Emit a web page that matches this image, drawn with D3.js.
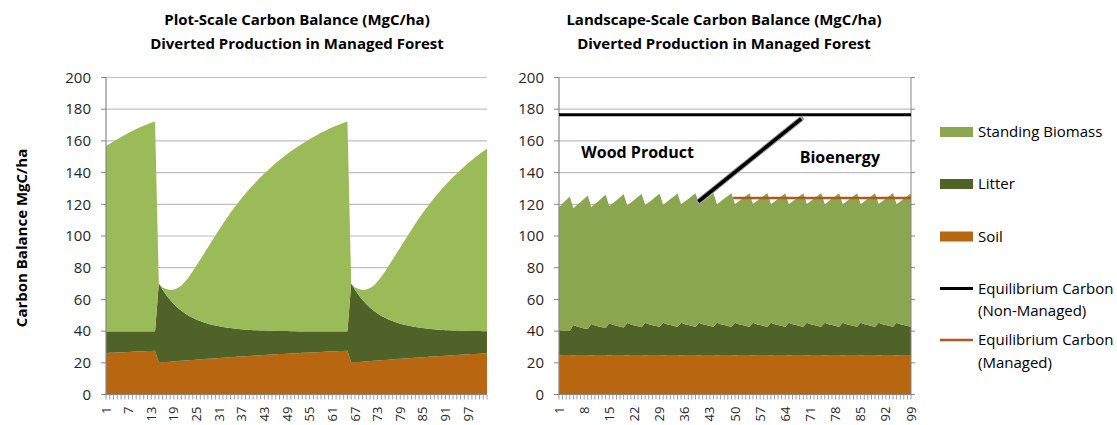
<!DOCTYPE html>
<html><head><meta charset="utf-8">
<script src="https://cdn.jsdelivr.net/npm/d3@7"></script>
<style>body{margin:0;background:#fff}svg{display:block}text{font-family:'Open Sans',sans-serif}</style>
</head><body><svg id="c" width="1117" height="425"></svg>
<script>
// ---------- DATA ----------
const leftCategories = d3.range(1, 103);   // years 1..102
const rightCategories = d3.range(1, 100);  // years 1..99
const leftTickLabels = [1,7,13,19,25,31,37,43,49,55,61,67,73,79,85,91,97];
const rightTickLabels = [1,8,15,22,29,36,43,50,57,64,71,78,85,92,99];
const yTickValues = [0,20,40,60,80,100,120,140,160,180,200];

const soilLeft = [
 26.1,26.3,26.4,26.5,26.6,26.7,26.8,27.0,27.1,27.2,27.3,27.4,27.5,27.6,
 20.1,20.3,20.5,20.7,20.9,21.1,21.3,21.4,21.6,21.8,22.0,22.2,22.4,22.5,22.7,22.9,23.0,23.2,23.4,23.5,
 23.7,23.9,24.0,24.2,24.3,24.5,24.6,24.8,24.9,25.1,25.2,25.3,25.5,25.6,25.7,25.9,26.0,26.1,26.3,26.4,
 26.5,26.6,26.7,26.8,27.0,27.1,27.2,27.3,27.4,27.5,27.6,
 20.1,20.3,20.5,20.7,20.9,21.1,21.3,21.4,21.6,21.8,22.0,22.2,22.4,22.5,22.7,22.9,23.0,23.2,23.4,23.5,
 23.7,23.9,24.0,24.2,24.3,24.5,24.6,24.8,24.9,25.1,25.2,25.3,25.5,25.6,25.7,25.9,26.0
];
const litterLeft = [
 13.7,13.5,13.4,13.3,13.2,13.1,13.0,12.8,12.7,12.6,12.5,12.4,12.3,12.2,
 49.9,45.8,42.1,38.9,36.2,33.7,31.5,29.7,28.0,26.6,25.2,24.1,23.0,22.2,21.3,20.6,20.0,19.4,18.8,18.4,
 17.9,17.4,17.1,16.7,16.5,16.1,15.9,15.6,15.4,15.1,15.0,14.8,14.6,14.4,14.3,14.0,13.9,13.7,13.5,13.4,
 13.3,13.2,13.1,13.0,12.8,12.7,12.6,12.5,12.4,12.3,12.2,
 49.9,45.8,42.1,38.9,36.2,33.7,31.5,29.7,28.0,26.6,25.2,24.1,23.0,22.2,21.3,20.6,20.0,19.4,18.8,18.4,
 17.9,17.4,17.1,16.7,16.5,16.1,15.9,15.6,15.4,15.1,15.0,14.8,14.6,14.4,14.3,14.0,13.9
];
const biomassLeft = [
 116.9,118.4,119.9,121.3,122.7,124.0,125.3,126.5,127.7,128.8,129.8,130.7,131.7,132.5,
 0,1.4,3.9,6.4,9.2,12.4,16.0,20.2,24.7,29.4,34.3,38.9,43.6,48.1,52.6,56.8,61.0,65.1,69.0,72.7,76.3,
 79.7,82.9,85.9,88.8,91.6,94.2,96.8,99.2,101.5,103.7,105.9,107.8,109.8,111.7,113.5,115.2,
 116.9,118.4,119.9,121.3,122.7,124.0,125.3,126.5,127.7,128.8,129.8,130.7,131.7,132.5,
 0,1.4,3.9,6.4,9.2,12.4,16.0,20.2,24.7,29.4,34.3,38.9,43.6,48.1,52.6,56.8,61.0,65.1,69.0,72.7,76.3,
 79.7,82.9,85.9,88.8,91.6,94.2,96.8,99.2,101.5,103.7,105.9,107.8,109.8,111.7,113.5,115.2
];

const soilRight = [
 24.6,24.5,24.5,24.4,
 24.8,24.5,24.5,24.5,24.5, 24.8,24.5,24.5,24.5,24.5, 24.8,24.5,24.5,24.5,24.5, 24.8,24.5,24.5,24.5,24.5,
 24.8,24.5,24.5,24.5,24.5, 24.8,24.5,24.5,24.5,24.5, 24.8,24.5,24.5,24.5,24.5, 24.8,24.5,24.5,24.5,24.5,
 24.8,24.5,24.5,24.5,24.5, 24.8,24.5,24.5,24.5,24.5, 24.8,24.5,24.5,24.5,24.5, 24.8,24.5,24.5,24.5,24.5,
 24.8,24.5,24.5,24.5,24.5, 24.8,24.5,24.5,24.5,24.5, 24.8,24.5,24.5,24.5,24.5, 24.8,24.5,24.5,24.5,24.5,
 24.8,24.5,24.5,24.5,24.5, 24.8,24.5,24.5,24.5,24.5, 24.8,24.5,24.5,24.5,24.5
];
const litterRight = [
 15.9,15.8,15.6,15.6,
 19.0,18.4,17.8,17.2,16.8, 19.7,19.1,18.4,17.9,17.4, 20.1,19.5,18.8,18.3,17.8, 20.3,19.7,19.0,18.5,18.0,
 20.4,19.8,19.2,18.7,18.2, 20.5,19.9,19.3,18.7,18.3, 20.5,19.9,19.3,18.7,18.3, 20.5,19.9,19.3,18.7,18.3,
 20.5,19.9,19.3,18.7,18.3, 20.5,19.9,19.3,18.7,18.3, 20.5,19.9,19.3,18.7,18.3, 20.5,19.9,19.3,18.7,18.3,
 20.5,19.9,19.3,18.7,18.3, 20.5,19.9,19.3,18.7,18.3, 20.5,19.9,19.3,18.7,18.3, 20.5,19.9,19.3,18.7,18.3,
 20.5,19.9,19.3,18.7,18.3, 20.5,19.9,19.3,18.7,18.3, 20.5,19.9,19.3,18.7,18.3
];
const biomassRight = [
 77.7,80.2,82.6,84.9,
 73.7,76.6,79.2,81.8,84.2, 73.7,76.6,79.2,81.7,84.1, 73.9,76.7,79.3,81.6,84.0, 74.1,76.8,79.4,81.7,84.0,
 74.3,77.0,79.4,81.7,84.0, 74.4,77.1,79.5,81.8,84.0, 74.6,77.3,79.6,82.0,84.1, 74.7,77.4,79.7,82.1,84.2,
 74.8,77.4,79.8,82.1,84.2, 74.7,77.3,79.7,82.0,84.1, 74.9,77.5,79.8,82.2,84.3, 74.8,77.4,79.7,82.1,84.2,
 74.7,77.4,79.7,82.1,84.2, 74.9,77.5,79.8,82.2,84.3, 74.8,77.4,79.8,82.1,84.2, 74.7,77.3,79.7,82.0,84.1,
 74.8,77.4,79.7,82.1,84.2, 74.9,77.5,79.8,82.2,84.3, 74.7,77.4,79.7,82.1,84.2
];

const eqNonManaged = [{year:1, value:176.5},{year:99, value:176.5}];
const eqManaged = [{year:49.5, value:124},{year:99, value:124}];
const annotLine = [{year:39.8, value:121.7},{year:68.4, value:173.9}];
const annotLabels = [{text:"Wood Product", year:7.2, value:149}, {text:"Bioenergy", year:68, value:146}];

const seriesNames = ["Standing Biomass","Litter","Soil"];
const lineNames = [["Equilibrium Carbon","(Non-Managed)"],["Equilibrium Carbon","(Managed)"]];
const titlesLeft = ["Plot-Scale Carbon Balance (MgC/ha)","Diverted Production in Managed Forest"];
const titlesRight = ["Landscape-Scale Carbon Balance (MgC/ha)","Diverted Production in Managed Forest"];
const yAxisTitle = "Carbon Balance MgC/ha";

// ---------- STYLE ----------
const C = {bioL:"#9bbb59", bioR:"#8aa64f", litter:"#4f6228", soil:"#b8660f",
           grid:"#bfbfbf", axis:"#868686", black:"#000", managed:"#b5561c", text:"#262626"};
const Y0 = 394.5, Y1 = 77.5;

const svg = d3.select("#c");
const y = d3.scaleLinear().domain([0,200]).range([Y0, Y1]);

function panel(cfg){
  const x = d3.scaleLinear().domain([cfg.cats[0], cfg.cats[cfg.cats.length-1]]).range([cfg.x0, cfg.x1]);
  const g = svg.append("g");
  g.selectAll("line.grid").data(yTickValues.filter(v=>v>0)).join("line")
    .attr("x1",cfg.x0).attr("x2",cfg.x1).attr("y1",d=>y(d)).attr("y2",d=>y(d))
    .attr("stroke",C.grid).attr("stroke-width",1.2);
  const rows = cfg.cats.map((c,i)=>({year:c, soil:cfg.soil[i], litter:cfg.litter[i], biomass:cfg.biomass[i]}));
  const stack = d3.stack().keys(["soil","litter","biomass"])(rows);
  const area = d3.area().x(d=>x(d.data.year)).y0(d=>y(d[0])).y1(d=>y(d[1]));
  const fills = {soil:C.soil, litter:C.litter, biomass:cfg.bioColor};
  g.selectAll("path.a").data(stack).join("path").attr("d",area).attr("fill",d=>fills[d.key]);
  g.append("line").attr("x1",cfg.x0).attr("x2",cfg.x0).attr("y1",Y0).attr("y2",Y1).attr("stroke",C.axis).attr("stroke-width",1.2);
  g.selectAll("line.yt").data(yTickValues).join("line")
    .attr("x1",cfg.x0-5).attr("x2",cfg.x0).attr("y1",d=>y(d)).attr("y2",d=>y(d)).attr("stroke",C.axis);
  g.selectAll("text.yl").data(yTickValues).join("text")
    .attr("x",cfg.x0-15).attr("y",d=>y(d)).attr("dy","0.35em").attr("text-anchor","end")
    .attr("font-size",15).attr("fill",C.text).text(d=>d);
  if(cfg.secondary){
    g.append("line").attr("x1",cfg.x1).attr("x2",cfg.x1).attr("y1",Y0).attr("y2",Y1).attr("stroke",C.axis).attr("stroke-width",1);
    g.selectAll("line.yt2").data(yTickValues).join("line")
      .attr("x1",cfg.x1).attr("x2",cfg.x1+4).attr("y1",d=>y(d)).attr("y2",d=>y(d)).attr("stroke",C.axis);
  }
  g.append("line").attr("x1",cfg.x0).attr("x2",cfg.x1).attr("y1",Y0).attr("y2",Y0).attr("stroke",C.axis).attr("stroke-width",1.2);
  g.selectAll("line.xt").data(cfg.cats).join("line")
    .attr("x1",d=>x(d)).attr("x2",d=>x(d)).attr("y1",Y0).attr("y2",Y0+5).attr("stroke",C.axis).attr("stroke-width",0.8);
  g.selectAll("text.xl").data(cfg.ticks).join("text")
    .attr("transform",d=>`translate(${x(d)},${Y0+12}) rotate(-90)`)
    .attr("text-anchor","end").attr("dy","0.35em").attr("font-size",13).attr("fill",C.text).text(d=>d);
  cfg.titles.forEach((t,i)=>g.append("text").attr("x",cfg.tx).attr("y",20+i*24).attr("dy","0.35em")
    .attr("text-anchor","middle").attr("font-size",15).attr("font-weight","bold").attr("fill","#000").text(t));
  return {x,g};
}

panel({cats:leftCategories, x0:106, x1:487, soil:soilLeft, litter:litterLeft, biomass:biomassLeft,
       bioColor:C.bioL, ticks:leftTickLabels, titles:titlesLeft, tx:297});
const R = panel({cats:rightCategories, x0:559, x1:911, soil:soilRight, litter:litterRight, biomass:biomassRight,
       bioColor:C.bioR, ticks:rightTickLabels, titles:titlesRight, tx:724, secondary:true});

const line = d3.line().x(d=>R.x(d.year)).y(d=>y(d.value));
R.g.append("path").attr("d",line(eqNonManaged)).attr("stroke",C.black).attr("stroke-width",3).attr("fill","none");
R.g.append("path").attr("d",line(eqManaged)).attr("stroke",C.managed).attr("stroke-width",2.5).attr("fill","none");
R.g.append("path").attr("d",line(annotLine)).attr("stroke","#9a9a9a").attr("stroke-width",5.5).attr("fill","none").attr("stroke-linecap","round");
R.g.append("path").attr("d",line(annotLine)).attr("stroke",C.black).attr("stroke-width",3.5).attr("fill","none");
annotLabels.forEach(a=>R.g.append("text").attr("x",R.x(a.year)).attr("y",y(a.value))
   .attr("font-size",16).attr("font-weight","bold").attr("fill","#000").text(a.text));

svg.append("text").attr("transform","translate(22,238) rotate(-90)").attr("text-anchor","middle")
   .attr("dy","0.35em").attr("font-size",15).attr("font-weight","bold").attr("fill","#000").text(yAxisTitle);

const lg = svg.append("g");
const swatchColors = [C.bioR, C.litter, C.soil];
const swY = [132, 184, 236.5];
seriesNames.forEach((n,i)=>{
  lg.append("rect").attr("x",940).attr("y",swY[i]-5).attr("width",33).attr("height",10).attr("fill",swatchColors[i]);
  lg.append("text").attr("x",978).attr("y",swY[i]).attr("dy","0.35em").attr("font-size",15).attr("fill","#000").text(n);
});
const lineColors = [C.black, C.managed];
const lnY = [288.5, 340];
lineNames.forEach((n,i)=>{
  lg.append("line").attr("x1",940).attr("x2",973).attr("y1",lnY[i]).attr("y2",lnY[i])
    .attr("stroke",lineColors[i]).attr("stroke-width",i===0?3:2.5);
  n.forEach((t,j)=>lg.append("text").attr("x",978).attr("y",lnY[i]+j*22.5).attr("dy","0.35em")
    .attr("font-size",15).attr("fill","#000").text(t));
});
</script></body></html>
